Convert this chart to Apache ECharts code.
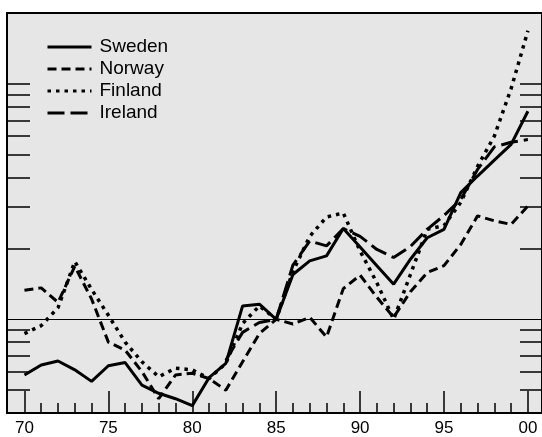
<!DOCTYPE html>
<html>
<head>
<meta charset="utf-8">
<script src="https://cdn.jsdelivr.net/npm/echarts@6/dist/echarts.min.js"></script>
<style>
html, body { margin: 0; padding: 0; background: #fff; }
#main { width: 542px; height: 437px; }
</style>
</head>
<body>
<div id="main"></div>
<script>
// stock price indices, 1985 = 100
const years = [70, 71, 72, 73, 74, 75, 76, 77, 78, 79, 80, 81, 82, 83, 84, 85,
  86, 87, 88, 89, 90, 91, 92, 93, 94, 95, 96, 97, 98, 99, 100];
const sweden = [58, 64, 66.5, 61, 54.5, 63.5, 65.5, 52.5, 48.5, 46, 43, 56.5, 65, 114, 116, 100,
  155, 177, 186, 243, 203, 169, 141, 180, 222, 241, 345, 406, 474, 553, 765];
const norway = [133, 136, 118, 168, 122, 80, 74, 60, 46, 58, 59, 56, 50, 66, 87, 100,
  95.5, 102, 84, 135, 154, 124, 102, 131, 158, 169, 208, 275, 262, 253, 303];
const finland = [87, 94, 112, 176, 134, 104, 80, 66, 57, 62, 61, 56, 65, 96, 114, 100,
  160, 225, 272, 283, 195, 143, 100, 155, 241, 250, 314, 446, 600, 955, 1680];
const ireland = [null, null, null, null, null, null, null, null, null, null, null, null, 67, 88, 97, 100,
  170, 215, 205, 243, 225, 198, 183, 204, 241, 276, 323, 433, 540, 565, 580];

const xLabelPos = [70, 75, 80, 85, 90, 95, 100];
const xLabels = ['70', '75', '80', '85', '90', '95', '00'];
const yTicks = [50, 60, 70, 80, 90, 200, 300, 400, 500, 600, 700, 800, 900, 1000];
const yMin = 40, yMax = 2000, xMin = 68.96, xMax = 100.84;

const chart = echarts.init(document.getElementById('main'));
const pairs = vals => years.map((y, i) => [y, vals[i]]).filter(p => p[1] != null);
const lg = v => Math.log10(v);
const font = 'Liberation Sans';

const line = (name, vals, type, width) => ({
  name: name,
  type: 'line',
  data: pairs(vals),
  xAxisIndex: 0,
  yAxisIndex: 0,
  symbol: 'none',
  silent: true,
  lineStyle: { color: '#000', width: width, type: type },
  itemStyle: { color: '#000' }
});

const sw = line('Sweden', sweden, 'solid', 3);
sw.markLine = {
  silent: true, symbol: 'none', animation: false,
  label: { show: false },
  lineStyle: { color: '#000', width: 1, type: 'solid' },
  data: [{ yAxis: 100 }]
};

let option = {
  animation: false,
  backgroundColor: '#fff',
  grid: {
    left: 7, top: 13, right: -2, bottom: 23,
    show: true, backgroundColor: '#e6e6e6', borderColor: '#000', borderWidth: 2
  },
  legend: {
    orient: 'vertical', left: 46, top: 37, padding: 0,
    itemWidth: 44, itemHeight: 14, itemGap: 2,
    textStyle: { fontSize: 19, color: '#000', fontFamily: font, lineHeight: 20, padding: [0, 0, 0, 3] },
    itemStyle: { opacity: 0, borderWidth: 0 },
    lineStyle: { width: 3 },
    data: ['Sweden', 'Norway', 'Finland', 'Ireland']
  },
  xAxis: [{
    type: 'value', min: xMin, max: xMax, position: 'bottom',
    axisLine: { lineStyle: { color: '#000', width: 2 } },
    splitLine: { show: false },
    axisTick: { inside: true, length: 10, customValues: years, lineStyle: { color: '#000', width: 1.5 } },
    axisLabel: {
      customValues: xLabelPos, margin: 7, color: '#000', fontSize: 17, fontFamily: font,
      formatter: v => xLabels[xLabelPos.indexOf(v)]
    }
  }, {
    type: 'value', min: xMin, max: xMax, position: 'bottom',
    axisLine: { show: false },
    splitLine: { show: false },
    axisTick: { inside: true, length: 22, customValues: xLabelPos, lineStyle: { color: '#000', width: 1.5 } },
    axisLabel: { show: false }
  }],
  yAxis: [{
    type: 'log', logBase: 10, min: yMin, max: yMax,
    axisLine: { show: false }, axisTick: { show: false }, axisLabel: { show: false }, splitLine: { show: false }
  }, {
    type: 'value', min: lg(yMin), max: lg(yMax), position: 'left',
    axisLine: { show: false }, axisLabel: { show: false }, splitLine: { show: false },
    axisTick: { inside: true, length: 23, customValues: yTicks.map(lg), lineStyle: { color: '#000', width: 1.5 } }
  }, {
    type: 'value', min: lg(yMin), max: lg(yMax), position: 'right',
    axisLine: { show: false }, axisLabel: { show: false }, splitLine: { show: false },
    axisTick: { inside: true, length: 22, customValues: yTicks.map(lg), lineStyle: { color: '#000', width: 1.5 } }
  }],
  series: [
    line('Norway', norway, [9, 5], 3),
    line('Finland', finland, [3.5, 5], 3.5),
    line('Ireland', ireland, [17, 6], 3),
    sw
  ]
};
chart.setOption(option);
</script>
</body>
</html>
